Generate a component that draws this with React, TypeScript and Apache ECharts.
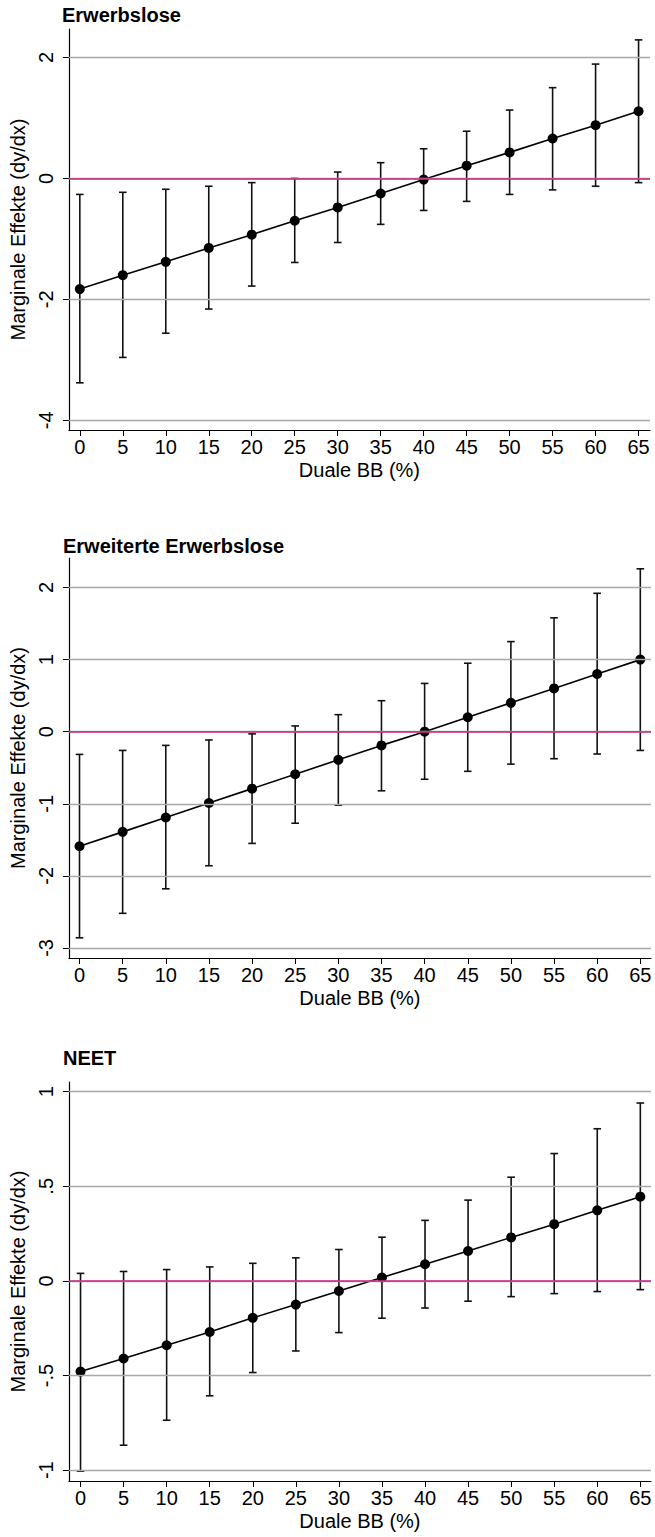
import React, { useEffect, useRef } from "react";
import * as echarts from "echarts";

const xValues = [0, 5, 10, 15, 20, 25, 30, 35, 40, 45, 50, 55, 60, 65];
const xTicks = [0, 5, 10, 15, 20, 25, 30, 35, 40, 45, 50, 55, 60, 65];

const titles = ["Erwerbslose", "Erweiterte Erwerbslose", "NEET"];
const yAxisTitle = "Marginale Effekte (dy/dx)";
const xAxisTitle = "Duale BB (%)";

const est1 = [-1.83, -1.6, -1.38, -1.15, -0.93, -0.7, -0.48, -0.25, -0.02, 0.21, 0.43, 0.66, 0.88, 1.11];
const lo1 = [-3.38, -2.96, -2.56, -2.16, -1.78, -1.39, -1.06, -0.76, -0.53, -0.38, -0.265, -0.19, -0.13, -0.07];
const hi1 = [-0.265, -0.23, -0.18, -0.13, -0.07, 0.0, 0.105, 0.26, 0.49, 0.78, 1.13, 1.5, 1.89, 2.29];
const yTicks1 = [-4, -2, 0, 2];

const est2 = [-1.59, -1.39, -1.19, -0.99, -0.79, -0.59, -0.39, -0.19, 0.0, 0.2, 0.4, 0.6, 0.8, 1.0];
const lo2 = [-2.86, -2.52, -2.18, -1.86, -1.55, -1.27, -1.02, -0.82, -0.66, -0.55, -0.45, -0.375, -0.31, -0.26];
const hi2 = [-0.315, -0.26, -0.19, -0.115, -0.03, 0.08, 0.236, 0.43, 0.67, 0.95, 1.25, 1.58, 1.92, 2.26];
const yTicks2 = [-3, -2, -1, 0, 1, 2];

const est3 = [-0.479, -0.41, -0.34, -0.27, -0.195, -0.125, -0.053, 0.018, 0.088, 0.158, 0.23, 0.3, 0.373, 0.445];
const lo3 = [-1.005, -0.868, -0.736, -0.607, -0.484, -0.37, -0.273, -0.197, -0.143, -0.107, -0.083, -0.067, -0.056, -0.046];
const hi3 = [0.04, 0.05, 0.06, 0.074, 0.093, 0.122, 0.166, 0.231, 0.32, 0.427, 0.548, 0.673, 0.804, 0.94];
const yTicks3 = [-1, -0.5, 0, 0.5, 1];

const FONT = "'Liberation Sans', Arial, sans-serif";

type Panel = {
  est: number[];
  lo: number[];
  hi: number[];
  yTicks: number[];
  left: number;
  right: number;
  top: number;
  height: number;
  yMin: number;
  yMax: number;
  xMin: number;
  xMax: number;
  titleTop: number;
  titleLeft: number;
};

const panels: Panel[] = [
  { est: est1, lo: lo1, hi: hi1, yTicks: yTicks1, left: 64, right: 5, top: 29, height: 401, yMin: -4.16, yMax: 2.47, xMin: -1.27, xMax: 66.33, titleTop: 5, titleLeft: 62 },
  { est: est2, lo: lo2, hi: hi2, yTicks: yTicks2, left: 66, right: 4, top: 558, height: 400, yMin: -3.14, yMax: 2.41, xMin: -1.23, xMax: 66.24, titleTop: 536, titleLeft: 63 },
  { est: est3, lo: lo3, hi: hi3, yTicks: yTicks3, left: 65, right: 4, top: 1082, height: 399, yMin: -1.057, yMax: 1.051, xMin: -1.35, xMax: 66.24, titleTop: 1048, titleLeft: 63 },
];

function fmtY(v: number): string {
  const s = String(v);
  return s.replace(/^(-?)0\./, "$1.");
}

export default function App() {
  const ref = useRef<HTMLDivElement>(null);
  useEffect(() => {
    if (!ref.current) return;
    const chart = echarts.init(ref.current, undefined, { renderer: "svg" });

    const grid: any[] = [];
    const xAxis: any[] = [];
    const yAxis: any[] = [];
    const series: any[] = [];
    const title: any[] = [];

    panels.forEach((p, i) => {
      grid.push({ left: p.left, right: p.right, top: p.top, height: p.height, containLabel: false });
      title.push({
        text: titles[i],
        left: p.titleLeft,
        top: p.titleTop,
        padding: 0,
        textStyle: { fontFamily: FONT, fontWeight: "bold", fontSize: 20, color: "#000" },
      });
      xAxis.push({
        type: "value",
        gridIndex: i,
        min: p.xMin,
        max: p.xMax,
        name: xAxisTitle,
        nameLocation: "middle",
        nameGap: 30,
        nameTextStyle: { fontFamily: FONT, fontSize: 20, color: "#000" },
        axisLine: { show: true, onZero: false, lineStyle: { color: "#000", width: 1.2 } },
        axisTick: { show: true, length: 6, customValues: xTicks, lineStyle: { color: "#000", width: 1 } },
        axisLabel: { show: true, customValues: xTicks, margin: 7, fontFamily: FONT, fontSize: 20, color: "#000" },
        splitLine: { show: false },
      });
      yAxis.push({
        type: "value",
        gridIndex: i,
        min: p.yMin,
        max: p.yMax,
        name: yAxisTitle,
        nameLocation: "middle",
        nameGap: 31,
        nameRotate: 90,
        nameTextStyle: { fontFamily: FONT, fontSize: 20, color: "#000" },
        axisLine: { show: true, onZero: false, lineStyle: { color: "#000", width: 1.2 } },
        axisTick: { show: true, length: 6, customValues: p.yTicks, lineStyle: { color: "#000", width: 1 } },
        axisLabel: {
          show: true,
          customValues: p.yTicks,
          rotate: 90,
          margin: 13,
          fontFamily: FONT,
          fontSize: 20,
          color: "#000",
          formatter: (v: number) => fmtY(v),
        },
        splitLine: { show: false },
      });

      // gridlines
      series.push({
        type: "line",
        xAxisIndex: i,
        yAxisIndex: i,
        data: [],
        silent: true,
        z: 1,
        markLine: {
          silent: true,
          symbol: "none",
          label: { show: false },
          lineStyle: { color: "#a8a8a8", width: 1.3, type: "solid" },
          data: p.yTicks.map((v) => ({ yAxis: v })),
        },
      });
      // zero reference line
      series.push({
        type: "line",
        xAxisIndex: i,
        yAxisIndex: i,
        data: [],
        silent: true,
        z: 2,
        markLine: {
          silent: true,
          symbol: "none",
          label: { show: false },
          lineStyle: { color: "#c8237f", width: 1.6, type: "solid" },
          data: [{ yAxis: 0 }],
        },
      });
      // error bars
      series.push({
        type: "custom",
        xAxisIndex: i,
        yAxisIndex: i,
        z: 3,
        silent: true,
        encode: { x: 0, y: [1, 2] },
        data: xValues.map((x, k) => [x, p.lo[k], p.hi[k]]),
        renderItem: (_params: any, api: any) => {
          const x = api.value(0);
          const pLo = api.coord([x, api.value(1)]);
          const pHi = api.coord([x, api.value(2)]);
          const w = 3.8;
          const st = { stroke: "#111", lineWidth: 1.6 };
          return {
            type: "group",
            children: [
              { type: "line", shape: { x1: pLo[0], y1: pLo[1], x2: pHi[0], y2: pHi[1] }, style: st },
              { type: "line", shape: { x1: pLo[0] - w, y1: pLo[1], x2: pLo[0] + w, y2: pLo[1] }, style: st },
              { type: "line", shape: { x1: pHi[0] - w, y1: pHi[1], x2: pHi[0] + w, y2: pHi[1] }, style: st },
            ],
          };
        },
      });
      // point estimates
      series.push({
        type: "line",
        xAxisIndex: i,
        yAxisIndex: i,
        z: 4,
        silent: true,
        data: xValues.map((x, k) => [x, p.est[k]]),
        symbol: "circle",
        symbolSize: 10,
        showSymbol: true,
        itemStyle: { color: "#000" },
        lineStyle: { color: "#000", width: 1.6 },
      });
    });

    chart.setOption({
      animation: false,
      backgroundColor: "#fff",
      title,
      grid,
      xAxis,
      yAxis,
      series,
    });
    return () => chart.dispose();
  }, []);

  return (
    <div
      ref={ref}
      style={{ position: "absolute", left: 0, top: 0, width: 655, height: 1537, background: "#fff" }}
    />
  );
}
